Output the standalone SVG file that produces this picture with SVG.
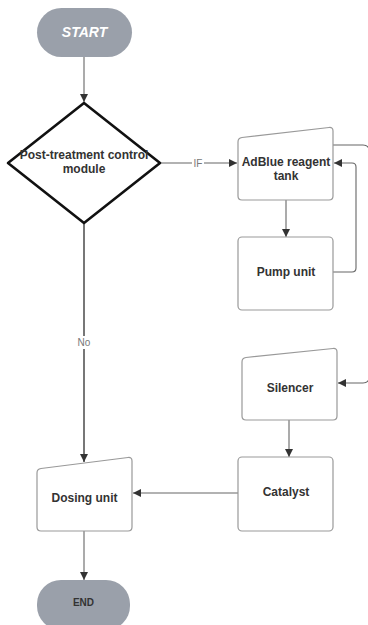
<svg xmlns="http://www.w3.org/2000/svg" width="368" height="625" viewBox="0 0 368 625">
<defs>
<marker id="arr" viewBox="0 0 10 10" refX="10" refY="5" markerWidth="8" markerHeight="8" markerUnits="userSpaceOnUse" orient="auto">
<path d="M0,0 L10,5 L0,10 Z" fill="#333"/>
</marker>
</defs>
<style>
.node{fill:#fff;stroke:#999;stroke-width:1.2}
.term{fill:#9aa0aa;stroke:none}
.lbl{font-family:"Liberation Sans",Arial,sans-serif;font-weight:bold;font-size:12px;fill:#333;text-anchor:middle}
.conn{fill:none;stroke:#666;stroke-width:1.1}
.clbl{font-family:"Liberation Sans",Arial,sans-serif;font-size:10px;fill:#777;text-anchor:middle}
</style>
<rect width="368" height="625" fill="#fff"/>
<g id="connectors">
<path class="conn" d="M84,57 V102" marker-end="url(#arr)"/>
<path class="conn" d="M161,163 H237" marker-end="url(#arr)"/>
<path class="conn" d="M286,200 V237" marker-end="url(#arr)"/>
<path class="conn" d="M333,272 H352 Q356,272 356,268 V167 Q356,163 352,163 H334" marker-end="url(#arr)"/>
<path class="conn" d="M333,145 H363 Q369,145 369,151 V377 Q369,383 363,383 H338" marker-end="url(#arr)"/>
<path class="conn" d="M289,420 V457" marker-end="url(#arr)"/>
<path class="conn" d="M238,493 H133" marker-end="url(#arr)"/>
<path class="conn" d="M84,224 V462" style="stroke-width:1.6;stroke:#555" marker-end="url(#arr)"/>
<path class="conn" d="M84,531 V580" marker-end="url(#arr)"/>
<rect x="192" y="156" width="12" height="13" fill="#fff"/>
<text class="clbl" x="198" y="166.5">IF</text>
<rect x="75" y="336" width="18" height="13" fill="#fff"/>
<text class="clbl" x="84" y="346">No</text>
</g>
<g id="start">
<rect class="term" x="37" y="8" width="95" height="49" rx="24.5"/>
<text class="lbl" x="84.5" y="37" style="font-size:14px;font-style:italic;fill:#fff">START</text>
</g>
<g id="control">
<path d="M84,103 L160,163 L84,223 L8,163 Z" fill="#fff" stroke="#111" stroke-width="2.6" stroke-linejoin="round"/>
<text class="lbl" x="84" y="159">Post-treatment control</text>
<text class="lbl" x="84" y="173">module</text>
</g>
<g id="adblue">
<path class="node" d="M238,142 Q238,138 242,137.5 L329,127.5 Q333,127 333,131 L333,196 Q333,200 329,200 L242,200 Q238,200 238,196 Z"/>
<text class="lbl" x="286" y="166">AdBlue reagent</text>
<text class="lbl" x="286" y="180">tank</text>
</g>
<g id="pump">
<rect class="node" x="238" y="237" width="95" height="73" rx="4"/>
<text class="lbl" x="286" y="276">Pump unit</text>
</g>
<g id="silencer">
<path class="node" d="M242,362 Q242,358 246,357.5 L333,348.5 Q337,348 337,352 L337,416 Q337,420 333,420 L246,420 Q242,420 242,416 Z"/>
<text class="lbl" x="290" y="392">Silencer</text>
</g>
<g id="catalyst">
<rect class="node" x="238" y="457" width="95" height="74" rx="4"/>
<text class="lbl" x="286" y="496">Catalyst</text>
</g>
<g id="dosing">
<path class="node" d="M37,473 Q37,469 41,468.5 L128,457.5 Q132,457 132,461 L132,527 Q132,531 128,531 L41,531 Q37,531 37,527 Z"/>
<text class="lbl" x="84.5" y="502">Dosing unit</text>
</g>
<g id="end">
<rect class="term" x="37" y="580" width="93" height="50" rx="24"/>
<text class="lbl" x="83.5" y="606" style="font-size:10px">END</text>
</g>
</svg>
